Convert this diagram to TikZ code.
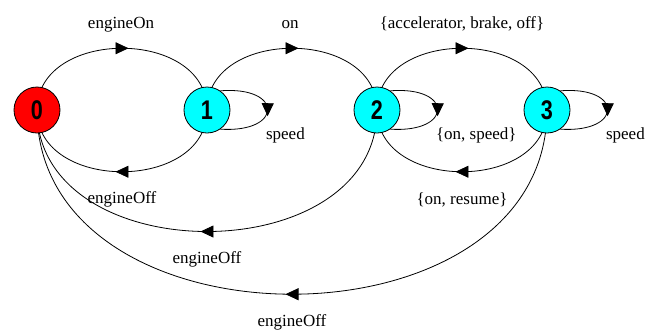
\documentclass[tikz,border=0pt]{standalone}
\usepackage{fontspec}
\setmainfont{Liberation Serif}
\newfontfamily\digitfont[FakeStretch=0.8]{Liberation Sans}
\usetikzlibrary{arrows.meta,decorations.markings,backgrounds}
\definecolor{stred}{RGB}{255,0,0}
\definecolor{stcyan}{RGB}{0,255,255}
\begin{document}
\begin{tikzpicture}[x=1pt,y=1pt,
  state/.style={circle, draw=black, line width=0.8pt, minimum size=46pt, inner sep=0pt,
    font=\digitfont\bfseries\fontsize{27}{27}\selectfont},
  conn/.style={draw=black, line width=0.8pt,
    postaction={decorate, decoration={markings,
      mark=at position 0.5 with {\arrow[xshift=6.5pt]{Triangle[length=13pt,width=12pt]}}}}},
  lbl/.style={inner sep=0pt, font=\fontsize{17}{17}\selectfont},
  looplbl/.style={lbl, pos=0.5, anchor=west, xshift=-2pt, yshift=-26pt}
]
\useasboundingbox (0,0) rectangle (649,-330);
\node[state, fill=stred]  (n0) at (37,-110) {0};
\node[state, fill=stcyan] (n1) at (207,-110) {1};
\node[state, fill=stcyan] (n2) at (377,-110) {2};
\node[state, fill=stcyan] (n3) at (547,-110) {3};
\begin{pgfonlayer}{background}
\draw[conn] (n0.center) to[out=90,in=90,looseness=1.242]
  node[lbl, midway, yshift=24pt, xshift=-1pt] (l01) {engineOn} (n1.center);
\draw[conn] (n1.center) to[out=90,in=90,looseness=1.242]
  node[lbl, midway, yshift=24pt, xshift=-2pt] (l12) {on} (n2.center);
\draw[conn] (n2.center) to[out=90,in=90,looseness=1.242]
  node[lbl, midway, yshift=24pt] (l23) {\{accelerator, brake, off\}} (n3.center);
\draw[conn] (n1.center) to[out=-90,in=-90,looseness=1.242]
  node[lbl, midway, yshift=-28pt] (l10) {engineOff} (n0.center);
\draw[conn] (n3.center) to[out=-90,in=-90,looseness=1.242]
  node[lbl, midway, yshift=-28pt] (l32) {\{on, resume\}} (n2.center);
\draw[conn] (n2.center) to[out=-90,in=-90,looseness=1.222]
  node[lbl, midway, yshift=-28pt] (l20) {engineOff} (n0.center);
\draw[conn] (n3.center) to[out=-90,in=-90,looseness=1.235]
  node[lbl, midway, yshift=-28pt] (l30) {engineOff} (n0.center);
\end{pgfonlayer}
\draw[conn] (n1.55) .. controls +(63,5) and +(63,-4) .. (n1.-55)
  node[looplbl] (ls1) {speed};
\draw[conn] (n2.55) .. controls +(63,5) and +(63,-4) .. (n2.-55)
  node[looplbl] (ls2) {\{on, speed\}};
\draw[conn] (n3.55) .. controls +(63,5) and +(63,-4) .. (n3.-55)
  node[looplbl] (ls3) {speed};
\end{tikzpicture}
\end{document}
